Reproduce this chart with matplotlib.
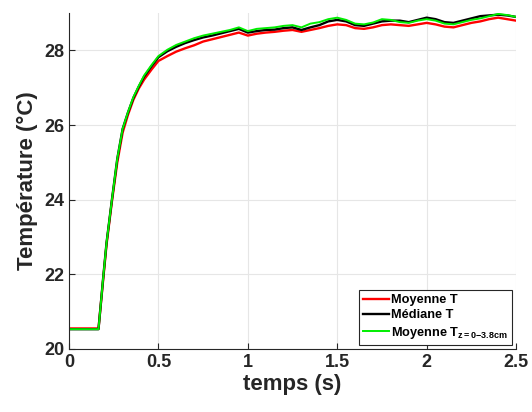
import matplotlib
matplotlib.use("Agg")
import matplotlib.pyplot as plt

plt.rcParams["font.family"] = ["Liberation Sans", "DejaVu Sans"]
plt.rcParams["mathtext.fontset"] = "custom"
plt.rcParams["mathtext.rm"] = "Liberation Sans:bold"
plt.rcParams["mathtext.it"] = "Liberation Sans:bold"
plt.rcParams["mathtext.bf"] = "Liberation Sans:bold"
plt.rcParams["mathtext.default"] = "bf"

# time (s)
t = [0, 0.165, 0.19, 0.21, 0.24, 0.27, 0.30, 0.33, 0.36, 0.39, 0.42, 0.46,
     0.50, 0.55, 0.60, 0.65, 0.70, 0.75, 0.80, 0.85, 0.90, 0.95, 1.00, 1.05,
     1.10, 1.15, 1.20, 1.25, 1.30, 1.35, 1.40, 1.45, 1.50, 1.55, 1.60, 1.65,
     1.70, 1.75, 1.80, 1.85, 1.90, 1.95, 2.00, 2.05, 2.10, 2.15, 2.20, 2.25,
     2.30, 2.35, 2.40, 2.45, 2.50]

moyenne = [20.55, 20.55, 21.8, 22.8, 23.95, 25.0, 25.8, 26.28, 26.68, 26.98,
           27.22, 27.48, 27.72, 27.85, 27.97, 28.06, 28.14, 28.24, 28.3, 28.36,
           28.42, 28.48, 28.4, 28.45, 28.48, 28.5, 28.53, 28.55, 28.5, 28.55,
           28.6, 28.66, 28.7, 28.68, 28.6, 28.58, 28.62, 28.68, 28.7, 28.68,
           28.66, 28.7, 28.74, 28.7, 28.64, 28.62, 28.68, 28.74, 28.78, 28.84,
           28.88, 28.84, 28.8]

mediane = [20.53, 20.53, 21.85, 22.85, 24.0, 25.1, 25.9, 26.34, 26.73, 27.03,
           27.3, 27.57, 27.82, 27.98, 28.1, 28.2, 28.28, 28.35, 28.4, 28.46,
           28.52, 28.58, 28.48, 28.52, 28.55, 28.56, 28.6, 28.62, 28.55, 28.62,
           28.68, 28.78, 28.82, 28.78, 28.68, 28.66, 28.72, 28.78, 28.8, 28.8,
           28.76, 28.82, 28.88, 28.84, 28.76, 28.74, 28.8, 28.86, 28.92, 28.94,
           28.96, 28.94, 28.9]

moyenne_z = [20.53, 20.53, 21.85, 22.85, 24.0, 25.1, 25.9, 26.35, 26.75, 27.05,
             27.33, 27.6, 27.85, 28.02, 28.15, 28.24, 28.33, 28.4, 28.45, 28.5,
             28.55, 28.62, 28.52, 28.58, 28.6, 28.62, 28.66, 28.68, 28.62, 28.72,
             28.76, 28.84, 28.88, 28.82, 28.72, 28.7, 28.75, 28.84, 28.82, 28.76,
             28.74, 28.8, 28.84, 28.8, 28.72, 28.7, 28.76, 28.82, 28.86, 28.92,
             28.98, 28.95, 28.9]

fig = plt.figure(figsize=(5.32, 4.12), dpi=100)
ax = fig.add_axes([0.1297, 0.153, 0.8403, 0.815])

ax.plot(t, moyenne, color="#ff0000", lw=1.7, label="Moyenne T")
ax.plot(t, mediane, color="black", lw=1.7, label="Médiane T")
ax.plot(t, moyenne_z, color="#00ee00", lw=1.4, label=r"Moyenne T$_{z=0{-}3.8cm}$")

ax.set_xlim(0, 2.5)
ax.set_ylim(20, 29)
ax.set_xticks([0, 0.5, 1, 1.5, 2, 2.5])
ax.set_xticklabels(["0", "0.5", "1", "1.5", "2", "2.5"])
ax.set_yticks([20, 22, 24, 26, 28])
ax.grid(True, color="#e6e6e6", lw=0.8)
ax.set_axisbelow(True)
for s in ["top", "right"]:
    ax.spines[s].set_visible(False)
for s in ["left", "bottom"]:
    ax.spines[s].set_color("#262626")
    ax.spines[s].set_linewidth(0.8)
ax.tick_params(direction="in", length=4, colors="#262626", labelsize=13)
for lab in ax.get_xticklabels() + ax.get_yticklabels():
    lab.set_fontweight("bold")

ax.set_xlabel("temps (s)", fontsize=16, fontweight="bold", color="#262626",
              labelpad=2)
ax.set_ylabel("Température (°C)", fontsize=16, fontweight="bold", color="#262626")

leg = ax.legend(loc="lower right", prop={"weight": "bold", "size": 9.2},
                fancybox=False, framealpha=1, edgecolor="#262626",
                handlelength=2.0, handletextpad=0.2, borderaxespad=0.3,
                labelspacing=0.25, borderpad=0.35)
leg.get_frame().set_linewidth(0.8)

fig.savefig("out.png", dpi=100)
